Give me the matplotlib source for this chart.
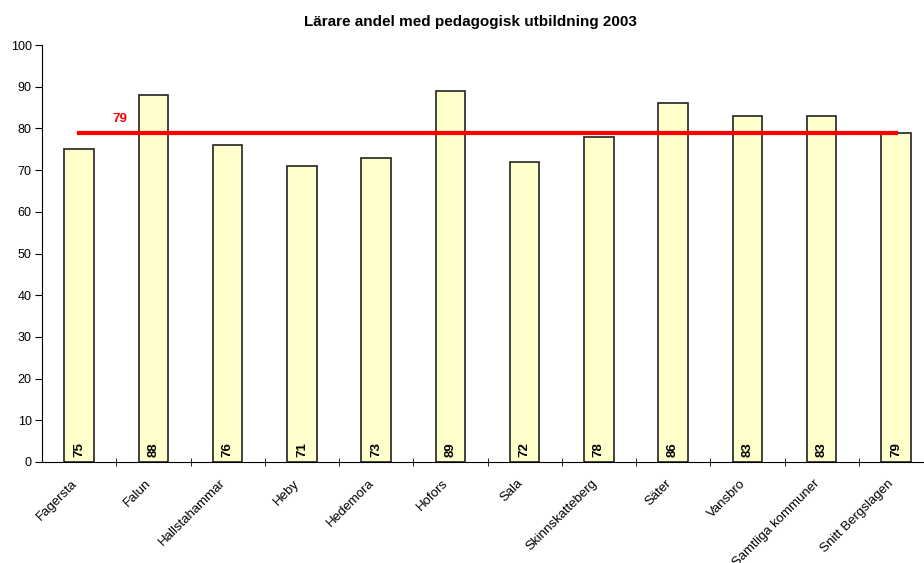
import matplotlib.pyplot as plt
import numpy as np

plt.rcParams["font.family"] = ["Liberation Sans", "DejaVu Sans"]

kommuner = ["Fagersta", "Falun", "Hallstahammar", "Heby", "Hedemora", "Hofors",
            "Sala", "Skinnskatteberg", "Säter", "Vansbro", "Samtliga kommuner",
            "Snitt Bergslagen"]
andel = [75, 88, 76, 71, 73, 89, 72, 78, 86, 83, 83, 79]
snitt = 79

fig = plt.figure(figsize=(9.24, 5.63), dpi=100)
ax = fig.add_axes([42 / 924, 1 - 462 / 563, 891 / 924, 417 / 563])

x = np.arange(len(kommuner))
ax.bar(x, andel, width=0.4, color="#FFFFCC", edgecolor="#222222", linewidth=1.2)
for xi, v in zip(x, andel):
    ax.text(xi, 1.2, str(v), rotation=90, ha="center", va="bottom",
            fontsize=9.5, fontweight="bold")

# snittlinje
ax.plot([x[0], x[-1]], [snitt, snitt], color="red", linewidth=3)
ax.text(0.55, 80.8, str(snitt), color="red", fontsize=9.5, fontweight="bold",
        ha="center", va="bottom")

ax.set_xlim(-0.5, len(kommuner) - 0.5)
ax.set_ylim(0, 100)
ax.set_yticks(range(0, 101, 10))
# etiketter lite till vänster om stapelns mitt, som i Excel
ax.set_xticks(x - 0.11)
ax.set_xticklabels(kommuner, rotation=45, ha="right", rotation_mode="anchor",
                   fontsize=9.5)
ax.set_xticks(x[:-1] + 0.5, minor=True)
ax.tick_params(axis="x", which="major", length=0, pad=11)
ax.tick_params(axis="x", which="minor", length=6, direction="inout")
ax.tick_params(axis="y", length=5, labelsize=9, pad=2.5)
for s in ["top", "right"]:
    ax.spines[s].set_visible(False)

ax.set_title("Lärare andel med pedagogisk utbildning 2003", fontsize=11,
             fontweight="bold", pad=14, x=(940 / 2 - 42) / 891)

fig.savefig("out.png", dpi=100)
